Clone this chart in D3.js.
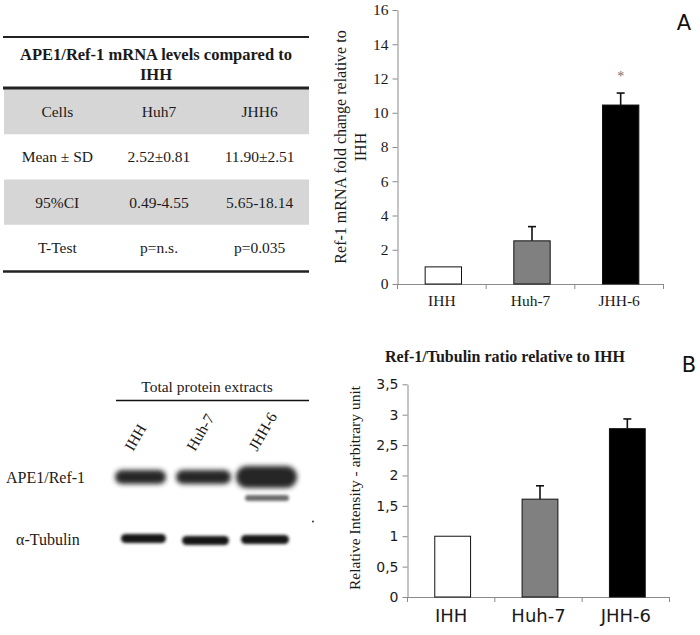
<!DOCTYPE html>
<html><head><meta charset="utf-8">
<script src="https://cdn.jsdelivr.net/npm/d3@7"></script>
<style>
html,body{margin:0;padding:0;background:#fff;}
svg{display:block;}
</style></head>
<body><svg id="fig" width="700" height="635"></svg>
<script>
// ---------- DATA ----------
const cells = ["IHH", "Huh-7", "JHH-6"];
const mrnaMean = [1.0, 2.52, 10.45];
const mrnaErr = [0, 0.83, 0.70];
const mrnaTicks = [0, 2, 4, 6, 8, 10, 12, 14, 16];
const ratioMean = [1.0, 1.61, 2.77];
const ratioErr = [0, 0.22, 0.16];
const ratioTicks = [0, 0.5, 1, 1.5, 2, 2.5, 3, 3.5];
const barFills = ["#ffffff", "#808080", "#000000"];

const tableTitle = ["APE1/Ref-1 mRNA levels compared to", "IHH"];
const tableColumns = ["Cells", "Huh7", "JHH6"];
const tableRowLabels = ["Mean ± SD", "95%CI", "T-Test"];
const tableHuh7 = ["2.52±0.81", "0.49-4.55", "p=n.s."];
const tableJHH6 = ["11.90±2.51", "5.65-18.14", "p=0.035"];

const blotLanes = ["IHH", "Huh-7", "JHH-6"];
const blotRows = ["APE1/Ref-1", "α-Tubulin"];

const SERIF = '"Liberation Serif", "DejaVu Serif", serif';
const SANS = '"DejaVu Sans", Verdana, sans-serif';

const svg = d3.select("#fig");
const defs = svg.append("defs");
defs.append("filter").attr("id","blur").attr("x","-30%").attr("y","-100%").attr("width","160%").attr("height","300%")
  .append("feGaussianBlur").attr("stdDeviation", 2.6);
defs.append("filter").attr("id","blur2").attr("x","-30%").attr("y","-100%").attr("width","160%").attr("height","300%")
  .append("feGaussianBlur").attr("stdDeviation", 1.5);

function txt(g, family){ return g.append("text").style("font-family", family); }

// ---------- TABLE ----------
(function(){
  const g = svg.append("g");
  const colX = d3.scaleBand().domain(d3.range(3)).range([5, 307]);
  const rowY = d3.scaleBand().domain(d3.range(4)).range([89, 270]);
  [0,2].forEach(i => g.append("rect").attr("x",4).attr("width",305)
    .attr("y",rowY(i)).attr("height",rowY.bandwidth()).attr("fill","#d6d6d6"));
  g.append("line").attr("x1",3).attr("x2",309).attr("y1",37).attr("y2",37).attr("stroke","#222").attr("stroke-width",2);
  g.append("line").attr("x1",3).attr("x2",309).attr("y1",88).attr("y2",88).attr("stroke","#222").attr("stroke-width",3);
  g.append("line").attr("x1",3).attr("x2",309).attr("y1",271.5).attr("y2",271.5).attr("stroke","#222").attr("stroke-width",2.5);
  tableTitle.forEach((t,i)=> txt(g,SERIF).attr("x",156).attr("y",60 + i*20)
    .attr("text-anchor","middle").attr("font-weight","bold").attr("font-size",16.5).attr("fill","#1a1a1a").text(t));
  const rows = [tableColumns].concat(tableRowLabels.map((r,i)=>[r, tableHuh7[i], tableJHH6[i]]));
  rows.forEach((row, ri) => row.forEach((cell, ci) => {
    txt(g,SERIF).attr("x", colX(ci) + colX.bandwidth()/2 + (ci===0?2:3))
      .attr("y", rowY(ri) + rowY.bandwidth()/2 + 5.5)
      .attr("text-anchor","middle").attr("font-size",15.5).attr("fill","#1a1a1a").text(cell);
  }));
})();

// ---------- BAR CHART helper ----------
function barChart(opt){
  const g = svg.append("g");
  const x = d3.scaleBand().domain(cells).range(opt.xr).padding(0);
  const y = d3.scaleLinear().domain(opt.yd).range(opt.yr);
  const axisColor = "#8a8a8a";
  const ya = g.append("g").attr("transform",`translate(${opt.xr[0]},0)`)
    .call(d3.axisLeft(y).tickValues(opt.ticks).tickSize(5).tickSizeOuter(0).tickFormat(opt.fmt));
  ya.select(".domain").attr("stroke",axisColor);
  ya.selectAll(".tick line").attr("stroke",axisColor);
  ya.selectAll(".tick text").style("font-family",opt.tickFont).attr("font-size",opt.tickSize).attr("fill","#1a1a1a").attr("x",-9);
  const xa = g.append("g").attr("transform",`translate(0,${opt.yr[0]})`)
    .call(d3.axisBottom(x).tickSize(0).tickPadding(opt.xPad));
  xa.select(".domain").attr("stroke",axisColor);
  xa.selectAll(".tick text").style("font-family",opt.xFont).attr("font-size",opt.xSize).attr("fill","#1a1a1a");
  const edges = cells.map(c=>x(c)).concat([x(cells[cells.length-1]) + x.bandwidth()]);
  g.selectAll(".edge").data(edges).enter().append("line")
    .attr("x1",d=>d).attr("x2",d=>d).attr("y1",opt.yr[0]).attr("y2",opt.yr[0]+5).attr("stroke",axisColor);
  const bw = x.bandwidth()*0.41;
  const cx = c => x(c) + x.bandwidth()/2 + 1.5;
  cells.forEach((c,i)=>{
    if (opt.err[i] > 0){
      const top = y(opt.mean[i] + opt.err[i]);
      g.append("line").attr("x1",cx(c)).attr("x2",cx(c)).attr("y1",y(opt.mean[i])).attr("y2",top).attr("stroke","#111").attr("stroke-width",1.6);
      g.append("line").attr("x1",cx(c)-4).attr("x2",cx(c)+4).attr("y1",top).attr("y2",top).attr("stroke","#111").attr("stroke-width",1.6);
    }
  });
  g.selectAll(".bar").data(cells).enter().append("rect")
    .attr("x",c=>cx(c)-bw/2).attr("width",bw)
    .attr("y",(c,i)=>y(opt.mean[i])).attr("height",(c,i)=>y(0)-y(opt.mean[i]))
    .attr("fill",(c,i)=>barFills[i]).attr("stroke","#111").attr("stroke-width",1);
  return {g,x,y,cx};
}

// ---------- CHART A ----------
const A = barChart({xr:[397.5,663.5], yr:[284,10], yd:[0,16], ticks:mrnaTicks, fmt:d3.format("d"),
  tickFont:SERIF, tickSize:15.5, xFont:SERIF, xSize:15.5, xPad:11, mean:mrnaMean, err:mrnaErr});
txt(A.g,SERIF).attr("x",A.cx("JHH-6")).attr("y",A.y(mrnaMean[2]+mrnaErr[2]) - 12)
  .attr("text-anchor","middle").attr("font-size",14).attr("fill","#707070").text("*");
[["Ref-1 mRNA fold change relative to",346],["IHH",366]].forEach(([t,xx])=>
  txt(A.g,SERIF).attr("transform",`translate(${xx},147) rotate(-90)`)
   .attr("text-anchor","middle").attr("font-size",16).attr("fill","#1a1a1a").text(t));
txt(svg,SANS).attr("x",684).attr("y",30).attr("text-anchor","middle")
  .attr("font-size",21).attr("fill","#111").text("A");

// ---------- CHART B ----------
const B = barChart({xr:[407.5,669.5], yr:[597,384.3], yd:[0,3.5], ticks:ratioTicks,
  fmt:d=>String(d).replace(".",","), tickFont:SANS, tickSize:14, xFont:SANS, xSize:18, xPad:12,
  mean:ratioMean, err:ratioErr});
txt(B.g,SERIF).attr("x",505).attr("y",362).attr("text-anchor","middle")
  .attr("font-weight","bold").attr("font-size",16).attr("fill","#1a1a1a").text("Ref-1/Tubulin ratio relative to IHH");
txt(B.g,SERIF).attr("transform","translate(360,488) rotate(-90)")
  .attr("text-anchor","middle").attr("font-size",15.5).attr("fill","#1a1a1a").text("Relative Intensity - arbitrary unit");
txt(svg,SANS).attr("x",689).attr("y",372).attr("text-anchor","middle")
  .attr("font-size",21).attr("fill","#111").text("B");

// ---------- WESTERN BLOT ----------
(function(){
  const g = svg.append("g");
  const lane = d3.scaleBand().domain(blotLanes).range([111,297]);
  const lc = l => lane(l) + lane.bandwidth()/2;
  const row = d3.scalePoint().domain(blotRows).range([477,539.5]);
  txt(g,SERIF).attr("x",207).attr("y",392).attr("text-anchor","middle").attr("font-size",15.5).attr("fill","#1a1a1a").text("Total protein extracts");
  g.append("line").attr("x1",116).attr("x2",309).attr("y1",400.5).attr("y2",400.5).attr("stroke","#111").attr("stroke-width",1.5);
  blotLanes.forEach(l => txt(g,SERIF).attr("transform",`translate(${lc(l)-9},452) rotate(-60)`)
    .attr("font-size",15.5).attr("fill","#1a1a1a").text(l));
  txt(g,SERIF).attr("x",6).attr("y",row("APE1/Ref-1")+6).attr("font-size",16).attr("fill","#1a1a1a").text("APE1/Ref-1");
  txt(g,SERIF).attr("x",16).attr("y",row("α-Tubulin")+5).attr("font-size",16).attr("fill","#1a1a1a").text("α-Tubulin");
  // band geometry (layout only): [left offset, right offset, height, vertical offset]
  const apeShape = {"IHH":[-27,24,14,0], "Huh-7":[-28,27,14,0], "JHH-6":[-30,31,22,0]};
  const tubShape = {"IHH":[-21,24,9,-1], "Huh-7":[-22,25,9,1], "JHH-6":[-25,23,9,0]};
  blotLanes.forEach(l=>{
    const s = apeShape[l];
    g.append("rect").attr("x",lc(l)+s[0]).attr("width",s[1]-s[0]).attr("y",row("APE1/Ref-1")-s[2]/2+s[3])
      .attr("height",s[2]).attr("rx",s[2]/2).attr("fill","#262626").attr("filter","url(#blur)");
    const t = tubShape[l];
    g.append("rect").attr("x",lc(l)+t[0]).attr("width",t[1]-t[0]).attr("y",row("α-Tubulin")-t[2]/2+t[3])
      .attr("height",t[2]).attr("rx",t[2]/2).attr("fill","#151515").attr("filter","url(#blur2)");
  });
  g.append("rect").attr("x",lc("JHH-6")-21).attr("width",44).attr("y",495).attr("height",6).attr("rx",3)
    .attr("fill","#6a6a6a").attr("filter","url(#blur2)");
  g.append("circle").attr("cx",313).attr("cy",521.5).attr("r",1).attr("fill","#333");
})();
</script></body></html>
